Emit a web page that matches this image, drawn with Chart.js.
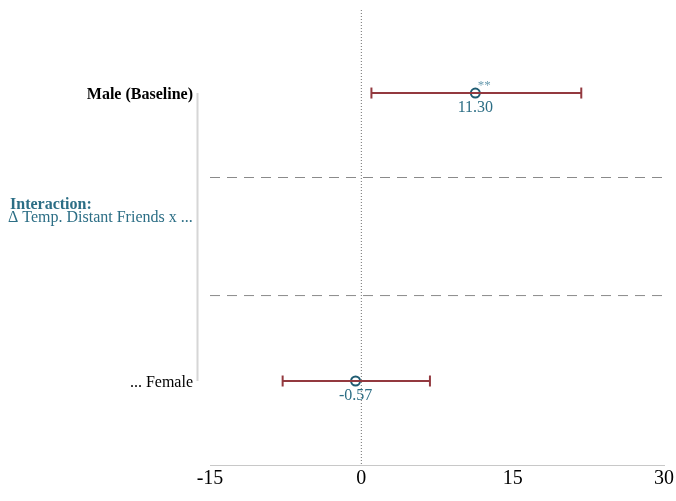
<!DOCTYPE html>
<html>
<head>
<meta charset="utf-8">
<script src="https://cdn.jsdelivr.net/npm/chart.js@4.4.1/dist/chart.umd.min.js"></script>
<style>
  html, body { margin: 0; padding: 0; background: #fff; }
  #wrap { width: 676px; height: 501px; }
</style>
</head>
<body>
<div id="wrap"><canvas id="coefChart" width="676" height="501"></canvas></div>
<script>
// rows, top to bottom
const rowLabels = ['Male (Baseline)', '... Female'];
const rowY = [1, 4];
const estimates = [11.30, -0.57];
const ciLow = [1.0, -7.8];
const ciHigh = [21.8, 6.8];
const stars = ['**', ''];
const separatorY = [1.880, 3.110];
const groupTitle = 'Interaction:';
const groupSubtitle = '\u0394 Temp. Distant Friends x ...';
const groupY = 2.16;
const xTicks = [-15, 0, 15, 30];
const yMin = 0.135, yMax = 4.875;

const SERIF = '"Liberation Serif", "Times New Roman", serif';
const TEAL = '#2c6e85';
const MARKER = '#1f5c72';
const RED = '#93393f';

const datasets = [];

// dotted zero line
datasets.push({
    data: [{ x: 0, y: yMin }, { x: 0, y: yMax }],
    showLine: true,
    borderColor: '#707070',
    borderWidth: 1,
    borderDash: [1, 2],
    pointRadius: 0
});

separatorY.forEach((y) => {
    datasets.push({
        data: [{ x: xTicks[0], y }, { x: xTicks[xTicks.length - 1], y }],
        showLine: true,
        borderColor: '#8a8a8a',
        borderWidth: 1,
        borderDash: [10, 7],
        pointRadius: 0
    });
});

rowY.forEach((y, i) => {
    datasets.push({
        data: [{ x: ciLow[i], y }, { x: ciHigh[i], y }],
        showLine: true,
        borderColor: RED,
        borderWidth: 2,
        pointStyle: 'line',
        rotation: 90,
        pointRadius: 5.5,
        pointBorderColor: RED,
        pointBorderWidth: 2
    });
});

datasets.push({
    data: rowY.map((y, i) => ({ x: estimates[i], y })),
    pointStyle: 'circle',
    pointRadius: 4.5,
    pointBorderWidth: 2,
    pointBorderColor: MARKER,
    pointBackgroundColor: '#ffffff'
});

const labelPlugin = {
    id: 'labels',
    afterDraw(chart) {
        const { ctx, chartArea } = chart;
        const xs = chart.scales.x;
        const ys = chart.scales.y;
        const labelRight = chartArea.left - 17;

        // grey bracket line on the left
        ctx.save();
        ctx.strokeStyle = '#d6d6d6';
        ctx.lineWidth = 2;
        ctx.beginPath();
        ctx.moveTo(chartArea.left - 12.5, ys.getPixelForValue(rowY[0]));
        ctx.lineTo(chartArea.left - 12.5, ys.getPixelForValue(rowY[rowY.length - 1]));
        ctx.stroke();

        ctx.textBaseline = 'middle';
        ctx.textAlign = 'right';
        rowLabels.forEach((label, i) => {
            ctx.font = (i === 0 ? 'bold ' : '') + '16px ' + SERIF;
            ctx.fillStyle = '#000';
            ctx.fillText(label, labelRight, ys.getPixelForValue(rowY[i]) + 2);
        });

        const gy = ys.getPixelForValue(groupY);
        ctx.textAlign = 'left';
        ctx.fillStyle = TEAL;
        ctx.font = 'bold 16px ' + SERIF;
        ctx.fillText(groupTitle, 10, gy);
        ctx.font = '16px ' + SERIF;
        ctx.fillText(groupSubtitle, 8, gy + 13);

        rowY.forEach((y, i) => {
            const px = xs.getPixelForValue(estimates[i]);
            const py = ys.getPixelForValue(y);
            ctx.textAlign = 'center';
            ctx.fillStyle = TEAL;
            ctx.font = '16px ' + SERIF;
            ctx.fillText(estimates[i].toFixed(2), px, py + 15);
            if (stars[i]) {
                ctx.fillStyle = '#6a9cb0';
                ctx.font = '13px ' + SERIF;
                ctx.fillText(stars[i], px + 9, py - 7);
            }
        });
        ctx.restore();
    }
};

new Chart(document.getElementById('coefChart'), {
    type: 'scatter',
    data: { datasets },
    options: {
        responsive: false,
        animation: false,
        events: [],
        layout: { padding: { left: 210, right: 11, top: 10, bottom: 8 } },
        plugins: { legend: { display: false }, tooltip: { enabled: false } },
        scales: {
            x: {
                type: 'linear',
                min: xTicks[0],
                max: xTicks[xTicks.length - 1],
                afterBuildTicks: (axis) => { axis.ticks = xTicks.map((v) => ({ value: v })); },
                grid: { display: false, drawTicks: false },
                border: { display: true, color: '#c8c8c8', width: 1 },
                ticks: {
                    color: '#000',
                    padding: 2,
                    maxRotation: 0,
                    font: { family: SERIF, size: 20 }
                }
            },
            y: {
                type: 'linear',
                min: yMin,
                max: yMax,
                reverse: true,
                display: false
            }
        }
    },
    plugins: [labelPlugin]
});
</script>
</body>
</html>
